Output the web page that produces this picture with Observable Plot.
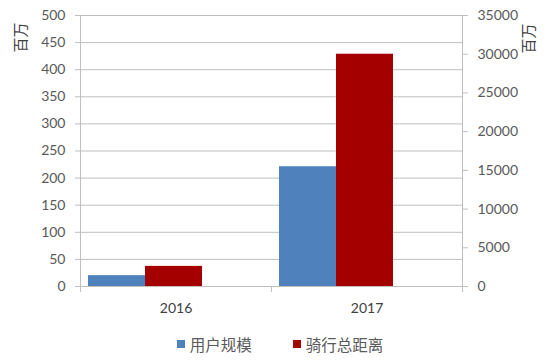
<!DOCTYPE html>
<html>
<head>
<meta charset="utf-8">
<script src="https://cdn.jsdelivr.net/npm/d3@7"></script>
<script src="https://cdn.jsdelivr.net/npm/@observablehq/plot@0.6"></script>
<style>
  html, body { margin: 0; padding: 0; background: #ffffff; }
  #chart { width: 554px; }
  .legend { display: flex; justify-content: center; align-items: center; height: 38px;
            font-family: "Noto Sans CJK SC", sans-serif; font-size: 15.5px; color: #595959;
            padding-left: 6px; box-sizing: border-box; width: 554px; }
  .legend .item { display: flex; align-items: center; }
  .legend .item + .item { margin-left: 41px; }
  .legend .sw { width: 8px; height: 8px; margin-right: 5px; }
</style>
</head>
<body>
<div id="chart"></div>
<script>
// ---- data ----
const years = ["2016", "2017"];
const seriesNames = ["用户规模", "骑行总距离"];
const seriesColors = ["#4f81bd", "#a50000"];
const userScale = [20, 221];        // 用户规模 (百万), left axis
const rideDistance = [2600, 30000]; // 骑行总距离 (百万), right axis
const leftTicks = [0, 50, 100, 150, 200, 250, 300, 350, 400, 450, 500];
const rightTicks = [0, 5000, 10000, 15000, 20000, 25000, 30000, 35000];
const unitLabel = "百万";

// right axis maps onto left axis: 35000 <-> 500
const ratio = rightTicks[rightTicks.length - 1] / leftTicks[leftTicks.length - 1];

const rows = years.flatMap((year, i) => [
  {year, series: seriesNames[0], value: userScale[i]},
  {year, series: seriesNames[1], value: rideDistance[i] / ratio}
]);

const gray = "#bfbfbf";
const H = 325, MT = 15, MB = 39;
const plotH = H - MT - MB;

const chart = Plot.plot({
  width: 554,
  height: H,
  marginTop: MT,
  marginBottom: MB,
  marginLeft: 80,
  marginRight: 92,
  style: {fontFamily: "Lato, sans-serif", fontSize: "14px", color: "#595959", background: "#ffffff"},
  fx: {domain: years, padding: 0, label: null},
  x: {domain: seriesNames, paddingInner: 0, paddingOuter: 0.647, align: 0.107, axis: null},
  y: {domain: [leftTicks[0], leftTicks[leftTicks.length - 1]], label: null},
  color: {domain: seriesNames, range: seriesColors},
  marks: [
    Plot.gridY(leftTicks, {stroke: gray, strokeOpacity: 1}),
    Plot.barY(rows, {fx: "year", x: "series", y: "value", fill: "series"}),
    Plot.frame({anchor: "left", facetAnchor: "left", stroke: gray, strokeOpacity: 1, insetBottom: -5}),
    Plot.frame({anchor: "right", facetAnchor: "right", stroke: gray, strokeOpacity: 1, insetBottom: -5}),
    Plot.frame({anchor: "right", stroke: gray, strokeOpacity: 1, insetTop: plotH, insetBottom: -5}),
    Plot.axisY(leftTicks, {anchor: "left", tickSize: 5, tickPadding: 10, stroke: gray, label: null, fontSize: 14}),
    Plot.axisY(rightTicks.map(v => v / ratio), {anchor: "right", tickSize: 5, tickPadding: 10, stroke: gray,
      label: null, fontSize: 14, tickFormat: d => String(Math.round(d * ratio))}),
    Plot.axisFx({anchor: "bottom", tickSize: 0, tickPadding: 17, label: null, fontSize: 14, fill: "#404040"}),
    Plot.text([unitLabel], {frameAnchor: "top-left", facetAnchor: "left", dx: -59, dy: 22, rotate: -90,
      textAnchor: "middle", lineAnchor: "middle",
      fontFamily: "Noto Sans CJK SC", fontSize: 15, fill: "#404040"}),
    Plot.text([unitLabel], {frameAnchor: "top-right", facetAnchor: "right", dx: 67, dy: 23, rotate: -90,
      textAnchor: "middle", lineAnchor: "middle",
      fontFamily: "Noto Sans CJK SC", fontSize: 15, fill: "#404040"})
  ]
});
document.getElementById("chart").appendChild(chart);

// legend
const legend = document.createElement("div");
legend.className = "legend";
seriesNames.forEach((name, i) => {
  const item = document.createElement("div");
  item.className = "item";
  const sw = document.createElement("span");
  sw.className = "sw";
  sw.style.background = seriesColors[i];
  const label = document.createElement("span");
  label.textContent = name;
  item.appendChild(sw);
  item.appendChild(label);
  legend.appendChild(item);
});
document.getElementById("chart").appendChild(legend);
</script>
</body>
</html>
